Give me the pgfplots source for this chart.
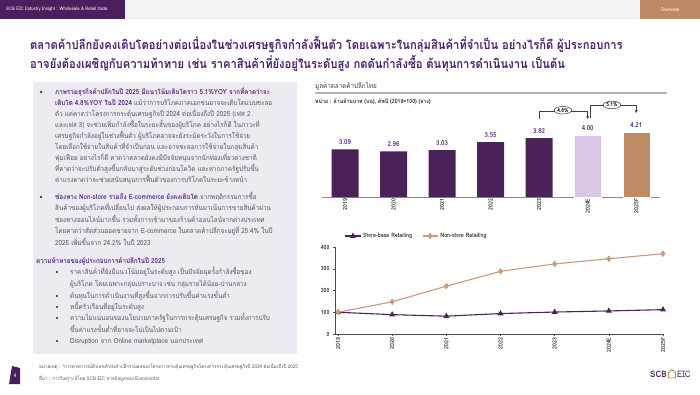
\documentclass[border=0pt]{standalone}
\usepackage{fontspec}
\setmainfont{Loma}[Script=Thai]
\newfontfamily\tf{Loma}[Script=Thai,FakeStretch=0.9]
\usepackage{pgfplots}
\pgfplotsset{compat=1.18}
\usetikzlibrary{arrows.meta,shapes.geometric}
\definecolor{hdrpurple}{HTML}{4B1F5E}
\definecolor{hdrgray}{HTML}{F2F2F2}
\definecolor{hdrtan}{HTML}{BE8A66}
\definecolor{titlepurple}{HTML}{4A1D6A}
\definecolor{barpurple}{HTML}{4A2259}
\definecolor{barlav}{HTML}{DCC6E8}
\definecolor{bartan}{HTML}{BD8C67}
\definecolor{linetan}{HTML}{C99A7E}
\definecolor{boxbg}{HTML}{EDEBF2}
\definecolor{bodygray}{HTML}{555566}
\definecolor{boldpurple}{HTML}{5A2A82}
\newcommand{\bfnt}{\tf\fontsize{7}{8}\selectfont}
\newcommand{\Ln}[3]{\node[anchor=base west,inner sep=0pt,text=bodygray,font=\bfnt] at (#1,{394-#2-2.4}) {#3};}
\newcommand{\Bp}[1]{{\bfseries\color{boldpurple}#1}}
\begin{document}
\begin{tikzpicture}
\begin{scope}[x=1bp,y=1bp]
\useasboundingbox (0,0) rectangle (700,394);
\fill[white] (0,0) rectangle (700,394);
% header
\fill[hdrgray] (0,394) rectangle (700,375);
\fill[hdrpurple] (0,394) rectangle (125,375);
\fill[hdrtan] (640,394) rectangle (700,375);
\node[anchor=west,text=white,font=\tf\fontsize{4.8}{5}\selectfont,inner sep=0] at (6,384.5) {SCB EIC Industry Insight : Wholesale \& Retail trade};
\node[text=white,font=\tf\fontsize{5}{6}\selectfont,inner sep=0] at (670,384.5) {Overview};
% title
\node[anchor=base west,inner sep=0,text=titlepurple,font=\tf\bfseries\fontsize{12.5}{14}\selectfont] at (30,{394-45-4.5}) {ตลาดค้าปลีกยังคงเติบโตอย่างต่อเนื่องในช่วงเศรษฐกิจกำลังฟื้นตัว โดยเฉพาะในกลุ่มสินค้าที่จำเป็น อย่างไรก็ดี ผู้ประกอบการ};
\node[anchor=base west,inner sep=0,text=titlepurple,font=\tf\bfseries\fontsize{12.5}{14}\selectfont] at (30,{394-64-4.5}) {อาจยังต้องเผชิญกับความท้าทาย เช่น ราคาสินค้าที่ยังอยู่ในระดับสูง กดดันกำลังซื้อ ต้นทุนการดำเนินงาน เป็นต้น};
% text box
\fill[boxbg] (33,{394-82}) rectangle (297,{394-354});
\fill[boldpurple] (41,{394-92}) circle (1.3);
\Ln{55}{92}{\Bp{ภาพรวมธุรกิจค้าปลีกในปี 2025 มีแนวโน้มเติบโตราว 5.1\%YOY จากที่คาดว่าจะ}}
\Ln{55}{103}{\Bp{เติบโต 4.8\%YOY ในปี 2024} แม้ว่าการบริโภคภาคเอกชนอาจจะเติบโตแบบชะลอ}
\Ln{55}{114}{ตัว แต่คาดว่าโครงการกระตุ้นเศรษฐกิจปี 2024 ต่อเนื่องถึงปี 2025 (เฟส 2}
\Ln{55}{125}{และเฟส 3) จะช่วยเพิ่มกำลังซื้อในระยะสั้นของผู้บริโภค อย่างไรก็ดี ในภาวะที่}
\Ln{55}{136}{เศรษฐกิจกำลังอยู่ในช่วงฟื้นตัว ผู้บริโภคอาจจะยังระมัดระวังในการใช้จ่าย}
\Ln{55}{147}{โดยเลือกใช้จ่ายในสินค้าที่จำเป็นก่อน และอาจชะลอการใช้จ่ายในกลุ่มสินค้า}
\Ln{55}{158}{ฟุ่มเฟือย อย่างไรก็ดี คาดว่าตลาดยังคงมีปัจจัยหนุนจากนักท่องเที่ยวต่างชาติ}
\Ln{55}{169}{ที่คาดว่าจะปรับตัวสูงขึ้นกลับมาสู่ระดับช่วงก่อนโควิด และหากภาครัฐปรับขึ้น}
\Ln{55}{180}{ค่าแรงคาดว่าจะช่วยสนับสนุนการฟื้นตัวของการบริโภคในระยะข้างหน้า}
\fill[boldpurple] (41,{394-197}) circle (1.3);
\Ln{55}{197}{\Bp{ช่องทาง Non-store รวมถึง E-commerce ยังคงเติบโต} จากพฤติกรรมการซื้อ}
\Ln{55}{208.5}{สินค้าของผู้บริโภคที่เปลี่ยนไป ส่งผลให้ผู้ประกอบการหันมาเน้นการขายสินค้าผ่าน}
\Ln{55}{220}{ช่องทางออนไลน์มากขึ้น รวมทั้งการเข้ามาของร้านค้าออนไลน์จากต่างประเทศ}
\Ln{55}{231.5}{โดยคาดว่าสัดส่วนยอดขายจาก E-commerce ในตลาดค้าปลีกจะอยู่ที่ 25.4\% ในปี}
\Ln{55}{243}{2025 เพิ่มขึ้นจาก 24.2\% ในปี 2023}
\Ln{36}{261}{\Bp{ความท้าทายของผู้ประกอบการค้าปลีกในปี 2025}}
\foreach \yy in {272,296,307,318,341}{\fill[bodygray] (56,{394-\yy-1.2}) rectangle (58.4,{394-\yy+1.2});}
\Ln{70}{272}{ราคาสินค้าที่ยังมีแนวโน้มอยู่ในระดับสูง เป็นปัจจัยฉุดรั้งกำลังซื้อของ}
\Ln{70}{284}{ผู้บริโภค โดยเฉพาะกลุ่มเปราะบาง เช่น กลุ่มรายได้น้อย-ปานกลาง}
\Ln{70}{296}{ต้นทุนในการดำเนินงานที่สูงขึ้นจากการปรับขึ้นค่าแรงขั้นต่ำ}
\Ln{70}{307}{หนี้ครัวเรือนที่อยู่ในระดับสูง}
\Ln{70}{318}{ความไม่แน่นอนของนโยบายภาครัฐในการกระตุ้นเศรษฐกิจ รวมทั้งการปรับ}
\Ln{70}{330}{ขึ้นค่าแรงขั้นต่ำที่อาจจะไม่เป็นไปตามเป้า}
\Ln{70}{341}{Disruption จาก Online marketplace นอกประเทศ}
% chart titles
\node[anchor=base west,inner sep=0,text=black!75,font=\tf\fontsize{7}{8}\selectfont] at (315,{394-86-2.4}) {มูลค่าตลาดค้าปลีกไทย};
\draw[black!30,line width=1.2] (315,{394-93}) -- (667,{394-93});
\node[anchor=base west,inner sep=0,text=black!80,font=\tf\bfseries\fontsize{5.8}{7}\selectfont] at (315,{394-101-2}) {หน่วย : ล้านล้านบาท (บน), ดัชนี (2019=100) (ล่าง)};
% footer
\fill[hdrpurple] (9,{394-384}) -- (12,{394-366}) -- (20,{394-368}) -- (20,{394-384}) -- cycle;
\node[text=white,font=\tf\fontsize{5}{6}\selectfont,inner sep=0] at (15,{394-376}) {4};
\node[anchor=base west,inner sep=0,text=bodygray,font=\tf\fontsize{5}{6}\selectfont] at (39,{394-367-1.8}) {หมายเหตุ : *การคาดการณ์ตัวเลขค้าส่งค้าปลีกรวมผลของโครงการกระตุ้นเศรษฐกิจโครงการกระตุ้นเศรษฐกิจปี 2024 ต่อเนื่องถึงปี 2025};
\node[anchor=base west,inner sep=0,text=bodygray,font=\tf\fontsize{5}{6}\selectfont] at (39,{394-379-1.8}) {ที่มา : การวิเคราะห์โดย SCB EIC จากข้อมูลของ Euromonitor};
\node[anchor=east,inner sep=0,text=hdrpurple,font=\tf\bfseries\fontsize{9}{10}\selectfont] at (667,{394-374}) {SCB};
\draw[hdrtan,line width=0.8] (668.5,{394-378}) -- (668.5,{394-373}) -- (672,{394-369.5}) -- (675.5,{394-373}) -- (675.5,{394-378}) -- cycle;
\node[anchor=west,inner sep=0,text=hdrpurple,font=\tf\fontsize{9}{10}\selectfont] at (677,{394-374}) {EIC};
\end{scope}
% bar chart
\begin{axis}[at={(322bp,197bp)},anchor=south west,scale only axis,
  width=338bp,height=77.2bp,xmin=-0.474,xmax=6.49,ymin=0,ymax=5,
  axis x line=bottom,axis y line=none,axis line style={-,black!45,line width=0.9},
  xtick={0,...,6},xticklabels={2019,2020,2021,2022,2023,2024E,2025F},
  major tick length=0pt,
  x tick label style={rotate=90,anchor=east,font=\tf\bfseries\fontsize{5.8}{6}\selectfont,text=black!80,inner sep=1.5pt},
  ybar,bar width=27bp,clip=false,
  nodes near coords,
  every node near coord/.append style={font=\tf\bfseries\fontsize{6.8}{7}\selectfont,text=boldpurple,yshift=1pt},
  /pgf/number format/.cd,fixed,fixed zerofill,precision=2,assume math mode=true]
\addplot[fill=barpurple,draw=none,bar shift=0pt] coordinates {(0,3.09) (1,2.96) (2,3.03) (3,3.55) (4,3.82)};
\addplot[fill=barlav,draw=white,bar shift=0pt] coordinates {(5,4.00)};
\addplot[fill=bartan,draw=white,bar shift=0pt] coordinates {(6,4.21)};
\draw[black!75,line width=0.6] (axis cs:4,5.05) -- (axis cs:4,5.57) -- (axis cs:5,5.57);
\draw[black!75,line width=0.6,-{Stealth[length=3pt,width=3pt]}] (axis cs:5,5.57) -- (axis cs:5,5.05);
\draw[black!75,line width=0.6] (axis cs:5.05,5.1) -- (axis cs:5.05,5.96) -- (axis cs:6,5.96);
\draw[black!75,line width=0.6,-{Stealth[length=3pt,width=3pt]}] (axis cs:6,5.96) -- (axis cs:6,5.44);
\node[draw=black!80,ellipse,fill=white,inner sep=0.6pt,line width=0.5,font=\tf\bfseries\fontsize{5.5}{6}\selectfont] at (axis cs:4.49,5.62) {4.8\%};
\node[draw=black!80,ellipse,fill=white,inner sep=0.6pt,line width=0.5,font=\tf\bfseries\fontsize{5.5}{6}\selectfont] at (axis cs:5.5,5.96) {5.1\%};
\end{axis}
% line chart
\begin{axis}[at={(335bp,60bp)},anchor=south west,scale only axis,
  width=328bp,height=87bp,xmin=-0.055,xmax=6,ymin=0,ymax=400,
  axis x line=bottom,axis y line=left,axis line style={-,black!70,line width=0.6},
  xtick={0,...,6},xticklabels={2019,2020,2021,2022,2023,2024E,2025F},
  ytick={0,100,200,300,400},
  tick align=outside,major tick length=2pt,tick style={black!70,line width=0.5},
  x tick label style={rotate=90,anchor=east,font=\tf\bfseries\fontsize{5.8}{6}\selectfont,text=black!80,inner sep=1.5pt},
  y tick label style={font=\tf\bfseries\fontsize{5.8}{6}\selectfont,text=black!80},
  /pgf/number format/assume math mode=true,
  legend style={at={(0.02,1.126)},anchor=west,draw=none,fill=none,legend columns=2,
    font=\tf\bfseries\fontsize{6}{7}\selectfont,text=black!80,
    /tikz/every even column/.append style={column sep=8pt}},
  legend image post style={xscale=0.9},
  clip=false]
\addplot[barpurple,line width=1.1,mark=triangle*,mark size=2.4pt,mark options={fill=barpurple}] coordinates {(0,100) (1,89) (2,82) (3,94) (4,101) (5,106) (6,112)};
\addlegendentry{Store-base Retailing}
\addplot[linetan,line width=1.1,mark=diamond*,mark size=2.4pt,mark options={fill=linetan}] coordinates {(0,100) (1,148) (2,220) (3,288) (4,322) (5,346) (6,369)};
\addlegendentry{Non-store Retailing}
\end{axis}
\end{tikzpicture}
\end{document}
